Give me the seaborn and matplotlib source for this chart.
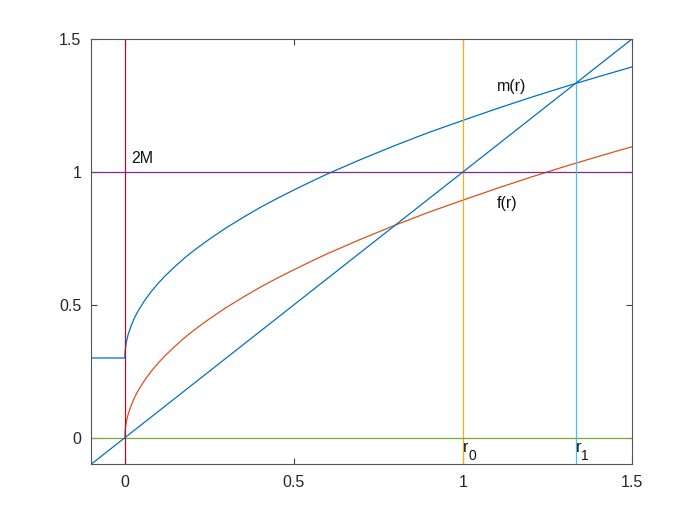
import matplotlib
matplotlib.use("Agg")
import matplotlib.pyplot as plt
import seaborn as sns

# ---- data ----
r_vals = [0.0, 0.0005, 0.002, 0.005, 0.01, 0.02, 0.03, 0.04, 0.06, 0.08, 0.10,
          0.12, 0.15, 0.18, 0.21, 0.25, 0.30, 0.35, 0.40, 0.45, 0.50, 0.55,
          0.60, 0.70, 0.80, 0.90, 1.00, 1.10, 1.20, 1.30, 1.40, 1.50]
f_vals = [0.0, 0.020, 0.040, 0.063, 0.089, 0.126, 0.155, 0.179, 0.219, 0.253, 0.283,
          0.310, 0.346, 0.380, 0.410, 0.447, 0.490, 0.529, 0.566, 0.600, 0.632, 0.663,
          0.693, 0.748, 0.800, 0.849, 0.894, 0.938, 0.980, 1.020, 1.058, 1.095]
m_r = [-0.1] + r_vals
m_vals = [0.3, 0.300, 0.320, 0.340, 0.363, 0.389, 0.426, 0.455, 0.479, 0.519, 0.553,
          0.583, 0.610, 0.646, 0.680, 0.710, 0.747, 0.790, 0.829, 0.866, 0.900, 0.932,
          0.963, 0.993, 1.048, 1.100, 1.149, 1.194, 1.238, 1.280, 1.320, 1.358, 1.395]
diag_x = [-0.1, 1.5]
diag_y = [-0.1, 1.5]
vlines = {"r0": 1.0, "r1": 1.333, "zero": 0.0}
hlines = {"twoM": 1.0, "zero": 0.0}
xticks = [0, 0.5, 1, 1.5]
yticks = [0, 0.5, 1, 1.5]
xtick_labels = ["0", "0.5", "1", "1.5"]
ytick_labels = ["0", "0.5", "1", "1.5"]

sns.set_style("ticks")
plt.rcParams["font.family"] = ["Liberation Sans", "DejaVu Sans"]
plt.rcParams["mathtext.default"] = "regular"

blue = "#0072BD"
orange = "#D95319"
yellow = "#EDB120"
purple = "#7E2F8E"
green = "#77AC30"
lblue = "#4DBEEE"
red = "#A2142F"

fig = plt.figure(figsize=(6.98, 5.23), dpi=100)
ax = fig.add_axes([0.1304, 0.1122, 0.7751, 0.8132])

lw = 0.9
sns.lineplot(x=m_r, y=m_vals, ax=ax, color=blue, lw=lw, sort=False, estimator=None)
sns.lineplot(x=r_vals, y=f_vals, ax=ax, color=orange, lw=lw, sort=False, estimator=None)
ax.axvline(vlines["r0"], color=yellow, lw=lw)
ax.axhline(hlines["twoM"], color=purple, lw=lw)
ax.axhline(hlines["zero"], color=green, lw=lw)
ax.axvline(vlines["r1"], color=lblue, lw=lw)
ax.axvline(vlines["zero"], color=red, lw=lw)
sns.lineplot(x=diag_x, y=diag_y, ax=ax, color=blue, lw=lw, sort=False, estimator=None)

ax.set_xlim(-0.1, 1.5)
ax.set_ylim(-0.1, 1.5)
ax.set_xticks(xticks)
ax.set_xticklabels(xtick_labels)
ax.set_yticks(yticks)
ax.set_yticklabels(ytick_labels)
ax.tick_params(direction="in", length=4, width=0.8, colors="#404040",
               labelcolor="#262626", labelsize=11.5, top=True, right=True,
               pad=7)
ax.tick_params(axis="x", pad=8)
for s in ax.spines.values():
    s.set_visible(True)
    s.set_color("#555555")
    s.set_linewidth(0.8)

fs = 11.5
tc = "#111111"
ax.text(0.02, 1.05, "2M", fontsize=fs, va="center", ha="left", color=tc)
ax.text(1.1, 1.323, "m(r)", fontsize=fs, va="center", ha="left", color=tc)
ax.text(1.1, 0.882, "f(r)", fontsize=fs, va="center", ha="left", color=tc)
for xv, sub in [(vlines["r0"], "0"), (vlines["r1"], "1")]:
    ax.text(xv, -0.037, "r", fontsize=fs, va="center", ha="left", color=tc)
    ax.text(xv + 0.016, -0.068, sub, fontsize=10, va="center", ha="left", color=tc)

fig.savefig("out.png", dpi=100)
